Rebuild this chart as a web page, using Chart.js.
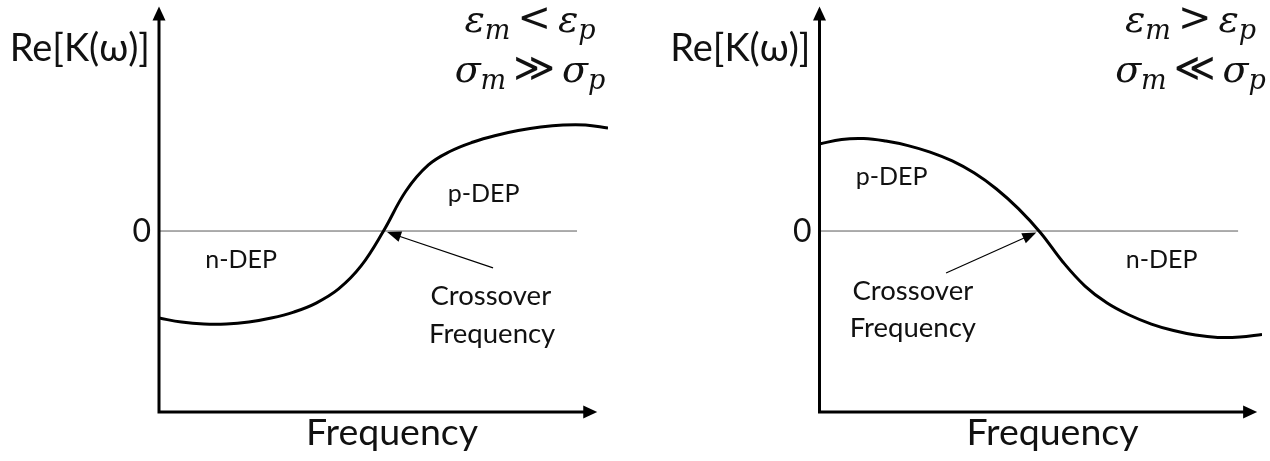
<!DOCTYPE html>
<html>
<head>
<meta charset="utf-8">
<script src="https://cdn.jsdelivr.net/npm/chart.js@4"></script>
<style>
    body { margin: 0; background: #fff; }
    .row { display: flex; width: 1270px; height: 461px; }
    canvas { display: block; }
</style>
</head>
<body>
<div class="row">
    <canvas id="leftChart" width="635" height="461"></canvas>
    <canvas id="rightChart" width="635" height="461"></canvas>
</div>
<script>
// Re[K(w)] against frequency, two cases of the Clausius-Mossotti factor
const freqSteps = [0, 5, 10, 15, 20, 25, 30, 35, 40, 45, 50, 55, 60, 65, 70, 75, 80, 85, 90, 95, 100];

// eps_m < eps_p, sigma_m >> sigma_p : n-DEP at low frequency
const leftK = [-0.481, -0.503, -0.514, -0.514, -0.503, -0.481, -0.448, -0.398, -0.320, -0.193, 0,
    0.221, 0.365, 0.442, 0.492, 0.528, 0.555, 0.575, 0.586, 0.586, 0.569];

// eps_m > eps_p, sigma_m << sigma_p : p-DEP at low frequency
const rightK = [0.481, 0.506, 0.511, 0.497, 0.472, 0.436, 0.387, 0.320, 0.232, 0.122, -0.011,
    -0.171, -0.304, -0.398, -0.464, -0.514, -0.550, -0.575, -0.588, -0.586, -0.572];

const yTickLabels = ['0'];
const yTitle = 'Re[K(ω)]';
const xTitle = 'Frequency';

const SANS = "Lato, 'Noto Sans', sans-serif";
const SERIF = "'DejaVu Serif', 'Liberation Serif', serif";

function toPoints(xs, ys) {
    return xs.map((x, i) => ({ x: x, y: ys[i] }));
}

function arrowHead(ctx, x0, y0, x1, y1, len, half) {
    const a = Math.atan2(y1 - y0, x1 - x0);
    ctx.beginPath();
    ctx.moveTo(x1, y1);
    ctx.lineTo(x1 - len * Math.cos(a) + half * Math.sin(a), y1 - len * Math.sin(a) - half * Math.cos(a));
    ctx.lineTo(x1 - len * Math.cos(a) - half * Math.sin(a), y1 - len * Math.sin(a) + half * Math.cos(a));
    ctx.closePath();
    ctx.fill();
}

// draws a formula like eps_m < eps_p, centred on cx
function drawFormula(ctx, parts, cx, baseline) {
    const fonts = {
        main: 'italic 38px ' + SERIF,
        sub: 'italic 27px ' + SERIF,
        op: "40px 'DejaVu Sans', sans-serif"
    };
    const gap = 7;
    let total = 0;
    parts.forEach(p => {
        ctx.font = fonts[p.k];
        p.w = ctx.measureText(p.t).width + (p.k === 'op' ? 2 * gap : 0);
        total += p.w;
    });
    let x = cx - total / 2;
    ctx.textAlign = 'left';
    ctx.textBaseline = 'alphabetic';
    parts.forEach(p => {
        ctx.font = fonts[p.k];
        const dx = p.k === 'op' ? gap : 0;
        const dy = p.k === 'sub' ? 7 : (p.k === 'op' ? -1 : 0);
        ctx.fillText(p.t, x + dx, baseline + dy);
        x += p.w;
    });
}

const sketchPlugin = {
    id: 'sketch',
    beforeDatasetsDraw(chart, args, opts) {
        const ctx = chart.ctx;
        const xs = chart.scales.x, ys = chart.scales.y;
        const x0 = xs.getPixelForValue(0);
        const yZero = ys.getPixelForValue(0);
        const yBottom = ys.getPixelForValue(-1);
        ctx.save();
        // zero line
        ctx.strokeStyle = '#5a5a5a';
        ctx.lineWidth = 1;
        ctx.beginPath();
        ctx.moveTo(x0, yZero);
        ctx.lineTo(xs.getPixelForValue(opts.zeroEnd), yZero);
        ctx.stroke();

        // axes with arrowheads
        ctx.strokeStyle = '#000';
        ctx.fillStyle = '#000';
        ctx.lineWidth = 3;
        const top = chart.chartArea.top;
        const xEnd = xs.getPixelForValue(opts.axisEnd);
        ctx.beginPath();
        ctx.moveTo(x0, top + 10);
        ctx.lineTo(x0, yBottom);
        ctx.lineTo(xEnd - 10, yBottom);
        ctx.stroke();
        arrowHead(ctx, x0, yBottom, x0, top, 14, 6.5);
        arrowHead(ctx, x0, yBottom, xEnd, yBottom, 14, 6.5);
        ctx.restore();
    },
    afterDatasetsDraw(chart, args, opts) {
        const ctx = chart.ctx;
        const xs = chart.scales.x, ys = chart.scales.y;
        const x0 = xs.getPixelForValue(0);
        ctx.save();
        ctx.fillStyle = '#111';

        ctx.font = '38px ' + SANS;
        ctx.textAlign = 'right';
        ctx.textBaseline = 'alphabetic';
        ctx.fillText(yTitle, x0 - 9, 61);

        ctx.font = '32px ' + SANS;
        ctx.textBaseline = 'middle';
        ctx.fillText(yTickLabels[0], x0 - 8, ys.getPixelForValue(0) + 1);

        ctx.font = '37.5px ' + SANS;
        ctx.textAlign = 'center';
        ctx.textBaseline = 'alphabetic';
        ctx.fillText(xTitle, x0 + 233, 445);

        ctx.textAlign = 'center';
        opts.notes.forEach(n => {
            ctx.font = n.size + 'px ' + SANS;
            ctx.fillText(n.text, xs.getPixelForValue(n.x), ys.getPixelForValue(n.y));
        });

        // pointer to the crossover frequency
        const a = opts.pointer;
        const ax0 = xs.getPixelForValue(a.from[0]), ay0 = ys.getPixelForValue(a.from[1]);
        const ax1 = xs.getPixelForValue(a.to[0]), ay1 = ys.getPixelForValue(a.to[1]);
        ctx.strokeStyle = '#000';
        ctx.fillStyle = '#000';
        ctx.lineWidth = 1.2;
        ctx.beginPath();
        ctx.moveTo(ax0, ay0);
        ctx.lineTo(ax1 + (ax0 - ax1) * 0.08, ay1 + (ay0 - ay1) * 0.08);
        ctx.stroke();
        arrowHead(ctx, ax0, ay0, ax1, ay1, 14, 5.5);

        ctx.fillStyle = '#111';
        drawFormula(ctx, opts.formula[0], x0 + 371, 32);
        drawFormula(ctx, opts.formula[1], x0 + 371, 82);
        ctx.restore();
    }
};

function makeChart(id, xs, ys, pad, opts) {
    return new Chart(document.getElementById(id), {
        type: 'line',
        data: {
            datasets: [{
                data: toPoints(xs, ys),
                borderColor: '#000',
                borderWidth: 3,
                pointRadius: 0,
                tension: 0.4,
                fill: false
            }]
        },
        options: {
            responsive: false,
            animation: false,
            events: [],
            layout: { padding: pad },
            scales: {
                x: { type: 'linear', min: 0, max: 100, display: false },
                y: { min: -1, max: 1.24, display: false }
            },
            plugins: {
                legend: { display: false },
                tooltip: { enabled: false },
                sketch: opts
            }
        },
        plugins: [sketchPlugin]
    });
}

makeChart('leftChart', freqSteps, leftK,
    { left: 159, right: 27, top: 6.6, bottom: 49 },
    {
        zeroEnd: 93.1,
        axisEnd: 97.6,
        notes: [
            { text: 'p-DEP', x: 72.3, y: 0.160, size: 25 },
            { text: 'n-DEP', x: 18.3, y: -0.204, size: 25 },
            { text: 'Crossover', x: 73.9, y: -0.409, size: 27.5 },
            { text: 'Frequency', x: 74.2, y: -0.619, size: 27.5 }
        ],
        pointer: { from: [74.4, -0.204], to: [50.8, -0.006] },
        formula: [
            [{ t: 'ε', k: 'main' }, { t: 'm', k: 'sub' }, { t: '<', k: 'op' }, { t: 'ε', k: 'main' }, { t: 'p', k: 'sub' }],
            [{ t: 'σ', k: 'main' }, { t: 'm', k: 'sub' }, { t: '≫', k: 'op' }, { t: 'σ', k: 'main' }, { t: 'p', k: 'sub' }]
        ]
    });

makeChart('rightChart', freqSteps, rightK,
    { left: 184.5, right: 8, top: 6.6, bottom: 49 },
    {
        zeroEnd: 94.6,
        axisEnd: 98.9,
        notes: [
            { text: 'p-DEP', x: 16.3, y: 0.254, size: 25 },
            { text: 'n-DEP', x: 77.3, y: -0.204, size: 25 },
            { text: 'Crossover', x: 21.1, y: -0.381, size: 27.5 },
            { text: 'Frequency', x: 21.1, y: -0.586, size: 27.5 }
        ],
        pointer: { from: [28.6, -0.232], to: [49.0, -0.008] },
        formula: [
            [{ t: 'ε', k: 'main' }, { t: 'm', k: 'sub' }, { t: '>', k: 'op' }, { t: 'ε', k: 'main' }, { t: 'p', k: 'sub' }],
            [{ t: 'σ', k: 'main' }, { t: 'm', k: 'sub' }, { t: '≪', k: 'op' }, { t: 'σ', k: 'main' }, { t: 'p', k: 'sub' }]
        ]
    });
</script>
</body>
</html>
